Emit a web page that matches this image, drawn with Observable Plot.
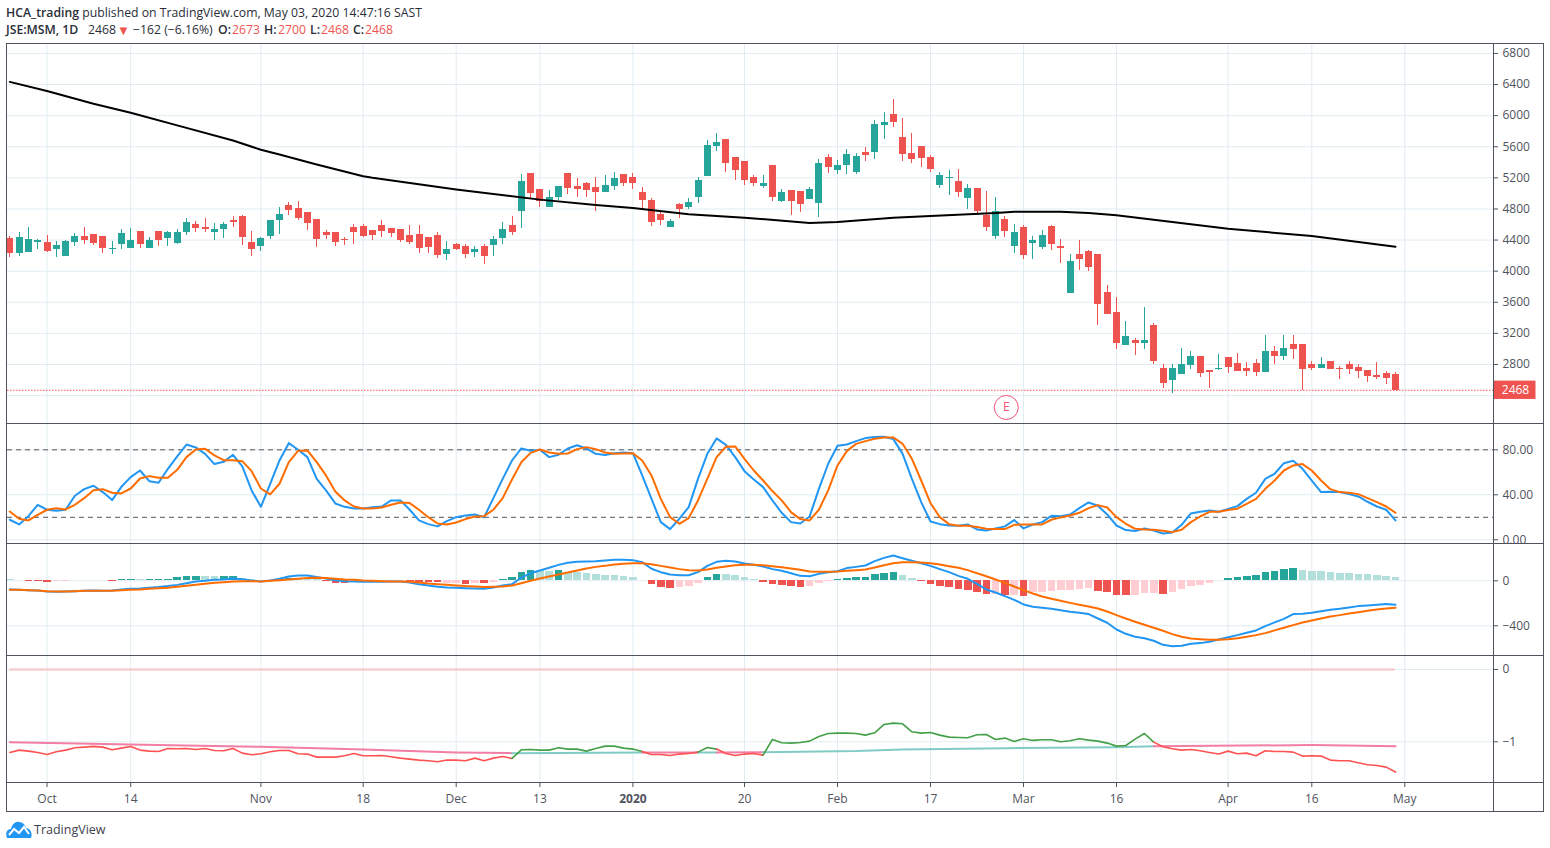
<!DOCTYPE html>
<html>
<head>
<meta charset="utf-8">
<script src="https://cdn.jsdelivr.net/npm/d3@7"></script>
<script src="https://cdn.jsdelivr.net/npm/@observablehq/plot@0.6"></script>
<style>
  html, body { margin: 0; padding: 0; background: #fff; overflow: hidden; }
  #stage { position: relative; width: 1550px; height: 848px; font-family: "Open Sans", sans-serif; color: #131722; }
  .pane { position: absolute; left: 0; }
  .pane svg { display: block; overflow: hidden; }
  .line { position: absolute; background: #50535e; }
  .hdr { position: absolute; font-size: 12.24px; line-height: 16px; white-space: nowrap; color: #2a2e39; }
  .hdr b { font-weight: 600; }
  .hdr.v { color: #ef5350; }
  #logo { position: absolute; left: 6px; top: 821px; display: flex; align-items: center; font-size: 12.5px; color: #3d4150; }
</style>
</head>
<body>
<div id="stage">
  <div class="hdr" style="left:6px;top:5px"><b>HCA_trading</b> published on TradingView.com, May 03, 2020 14:47:16 SAST</div>
  <div class="hdr" style="left:6px;top:22px"><b>JSE:MSM, 1D</b></div>
  <div class="hdr" style="left:88px;top:22px">2468</div>
  <div class="hdr v" style="left:117px;top:22px;font-size:13px">▼</div>
  <div class="hdr" style="left:133px;top:22px">−162 (−6.16%)</div>
  <div class="hdr" style="left:218px;top:22px"><b>O:</b></div>
  <div class="hdr v" style="left:232px;top:22px">2673</div>
  <div class="hdr" style="left:264px;top:22px"><b>H:</b></div>
  <div class="hdr v" style="left:278px;top:22px">2700</div>
  <div class="hdr" style="left:310px;top:22px"><b>L:</b></div>
  <div class="hdr v" style="left:321px;top:22px">2468</div>
  <div class="hdr" style="left:353px;top:22px"><b>C:</b></div>
  <div class="hdr v" style="left:365px;top:22px">2468</div>
  <div id="logo"><svg width="26" height="17" viewBox="0 0 26 17"><path d="M1 17 C-1 12 1 8 5 8 C6 3 10 0 13 1 C17 1 19 4 20 7 C24 7 27 12 25 17 Z" fill="#2196f3"/><path d="M3 14 L8 8 L13 12 L18 6 L23 13" fill="none" stroke="#fff" stroke-width="2"/></svg><span style="margin-left:2px">TradingView</span></div>
</div>
<script>
// Candles, one entry per trading day
const open = [4417,4224,4241,4374,4366,4275,4189,4366,4443,4469,4443,4275,4340,4288,4508,4288,4508,4417,4353,4495,4598,4559,4495,4533,4649,4701,4366,4314,4443,4649,4843,4804,4753,4662,4495,4495,4409,4559,4572,4520,4585,4546,4533,4456,4469,4430,4456,4211,4340,4314,4237,4314,4327,4417,4585,4766,5256,5049,4817,4946,5256,5088,5127,5075,5011,5088,5243,5204,5011,4907,4727,4559,4856,4817,4946,5217,5604,5694,5462,5411,5204,5088,5359,4895,5036,5024,4920,4869,5462,5294,5359,5269,5527,5527,5875,6017,5720,5514,5604,5462,5101,5196,5153,4933,5062,4714,4443,4662,4314,4559,4352,4301,4572,4314,3707,4210,4249,4210,3720,3462,3049,3114,3075,3307,2753,2598,2675,2791,2907,2727,2740,2895,2817,2753,2817,2701,2972,2907,3062,3062,2804,2753,2843,2753,2804,2766,2727,2662,2688,2673];
const high = [4447,4495,4559,4409,4456,4378,4391,4482,4559,4469,4443,4378,4533,4546,4508,4430,4508,4508,4533,4675,4637,4675,4611,4624,4701,4714,4508,4430,4649,4817,4882,4895,4753,4662,4520,4495,4430,4598,4598,4520,4649,4546,4533,4585,4585,4430,4495,4378,4353,4340,4314,4340,4443,4624,4701,5243,5256,5049,5036,5088,5256,5191,5140,5204,5230,5269,5243,5256,5075,4933,4766,4662,4869,4933,5204,5681,5772,5694,5462,5411,5230,5230,5359,5049,5036,5024,5075,5436,5501,5423,5565,5514,5591,5939,6043,6210,5965,5772,5604,5488,5269,5294,5307,5114,5062,5024,4941,4701,4597,4585,4443,4520,4585,4404,4210,4391,4262,4210,3811,3656,3359,3140,3527,3333,2804,2804,3011,2972,2907,2727,2933,2895,2946,2830,2869,3178,3037,3178,3178,3062,2843,2895,2843,2778,2843,2804,2727,2830,2714,2700];
const low = [4176,4189,4241,4280,4241,4176,4189,4314,4340,4327,4224,4211,4275,4288,4288,4288,4314,4314,4344,4456,4495,4495,4391,4417,4559,4327,4185,4250,4404,4469,4714,4649,4520,4301,4404,4314,4327,4340,4430,4391,4430,4430,4366,4340,4224,4224,4159,4133,4262,4159,4172,4082,4185,4340,4456,4546,4920,4817,4817,4903,4985,4946,4946,4766,5011,5036,5088,5049,4778,4572,4585,4559,4675,4791,4869,5217,5540,5269,5165,5101,5088,5062,4895,4882,4714,4753,4920,4688,5256,5243,5243,5243,5411,5436,5694,5849,5411,5385,5333,5269,5062,4972,4946,4791,4714,4508,4404,4430,4223,4146,4146,4275,4262,4094,3707,4004,3991,3295,3449,2998,3049,2920,2998,2804,2495,2430,2675,2740,2637,2495,2727,2688,2714,2649,2649,2701,2804,2856,2869,2469,2727,2753,2740,2611,2675,2624,2572,2611,2546,2468];
const close = [4228,4430,4404,4391,4250,4327,4378,4443,4391,4353,4288,4288,4482,4391,4340,4391,4391,4495,4495,4624,4546,4533,4533,4598,4628,4430,4275,4417,4649,4727,4778,4675,4611,4404,4456,4366,4396,4495,4443,4456,4508,4482,4391,4366,4288,4301,4198,4275,4275,4211,4275,4185,4404,4533,4495,5153,4998,4895,4946,5088,5062,5049,5036,5011,5101,5191,5127,5127,4907,4624,4649,4637,4791,4882,5165,5617,5656,5385,5294,5165,5127,5127,4946,5011,4895,4856,5049,5385,5333,5359,5501,5475,5488,5888,5914,5914,5501,5436,5449,5307,5230,5204,5011,5062,4766,4559,4761,4507,4494,4198,4391,4456,4339,4288,4120,4146,4043,3565,3449,3075,3165,3075,3114,2843,2559,2753,2804,2907,2688,2701,2753,2766,2714,2714,2701,2972,2907,3011,2998,2740,2753,2804,2740,2740,2740,2714,2649,2637,2624,2468];

// Long moving average on the price pane: bar number and value
const smaBar = [0,4,9,13,18,24,27,29,33,38,39,48,57,63,67,73,79,86,89,95,99,106,108,113,116,119,125,131,140,149];
const smaVal = [6434,6318,6154,6038,5875,5681,5561,5501,5372,5221,5200,5049,4920,4851,4813,4731,4688,4619,4632,4688,4710,4748,4765,4765,4748,4718,4632,4546,4451,4314];

// Stochastic
const stochK = [17.8,13.6,21.0,31.1,26.7,25.8,26.7,39.1,45.0,48.0,42.4,35.3,47.1,55.7,61.6,52.1,50.7,63.1,74.1,84.7,82.1,76.4,67.3,69.3,75.6,65.2,43.9,29.3,49.8,70.5,85.9,80.0,73.5,54.2,43.9,32.3,29.3,27.9,27.9,29.0,29.6,35.0,35.0,26.7,17.2,13.9,11.9,16.6,20.1,21.6,22.5,20.1,37.0,54.2,70.5,81.2,79.1,80.0,73.5,75.6,81.2,84.1,81.2,76.4,75.3,77.0,77.6,77.0,57.2,36.4,15.7,9.5,18.7,29.0,54.2,76.4,90.1,84.4,73.5,61.0,53.6,46.8,35.0,24.0,15.7,14.5,20.7,45.3,67.6,83.6,84.7,87.7,90.4,91.3,91.6,89.5,76.4,54.2,33.5,16.3,13.9,12.7,12.4,13.6,9.2,8.3,10.1,11.9,17.5,10.1,13.6,15.7,21.3,21.0,22.5,28.1,33.2,30.2,22.5,12.7,8.6,7.7,10.1,8.3,5.6,6.5,13.3,23.4,24.9,26.1,24.9,27.3,29.9,36.4,41.8,54.2,58.7,68.1,70.2,63.1,52.7,42.4,42.7,42.4,40.6,38.5,33.8,29.6,26.7,17.2];
const stochD = [25.2,18.7,17.2,22.2,26.7,28.1,27.0,31.1,37.0,44.1,45.0,41.8,41.2,45.6,54.5,56.6,55.1,55.1,62.2,73.5,80.3,80.9,75.0,70.8,70.8,69.9,61.0,45.6,40.3,49.8,69.0,79.1,79.4,69.0,57.2,43.0,35.0,29.6,27.9,27.9,28.7,31.1,33.2,32.6,26.7,20.1,14.5,13.6,15.4,18.4,20.7,21.0,26.7,37.0,53.6,69.0,77.3,80.3,77.6,76.4,76.7,80.6,82.4,80.6,77.6,76.4,76.7,77.0,70.5,57.2,36.4,20.1,14.2,19.3,35.0,54.2,73.5,82.7,83.0,72.0,61.6,52.7,43.3,35.0,24.6,18.4,17.2,26.7,43.9,66.1,78.8,85.3,87.7,89.8,91.0,91.0,85.3,72.0,52.7,32.6,20.1,13.9,12.4,12.4,11.3,9.8,9.5,9.5,13.3,13.6,13.6,13.6,17.8,19.9,21.6,24.0,28.1,30.8,28.7,20.1,14.2,9.8,9.2,8.9,8.0,6.8,8.9,15.7,20.7,24.9,24.9,26.4,27.6,32.0,36.4,45.3,52.7,61.6,66.1,67.3,61.6,52.7,45.0,42.4,41.8,40.6,37.0,33.5,29.6,24.0];
const stochLevels = [80, 20];

// MACD
const macdLine = [-77,-80,-83,-86,-95,-98,-95,-92,-89,-86,-89,-86,-77,-71,-68,-62,-56,-47,-36,-21,-6,0,9,12,21,15,3,-6,3,18,39,47,47,33,21,6,-3,-6,-9,-9,-9,-6,-6,-15,-30,-41,-53,-59,-62,-65,-68,-71,-59,-41,-30,27,68,92,116,142,160,169,172,175,181,187,187,184,166,107,77,56,50,50,77,133,169,178,172,154,142,127,104,89,68,44,41,62,77,86,113,124,136,175,204,225,201,178,157,133,104,77,44,18,-27,-77,-104,-136,-169,-210,-231,-240,-249,-261,-276,-284,-296,-335,-373,-433,-471,-498,-510,-533,-569,-581,-578,-560,-554,-542,-521,-501,-483,-462,-441,-403,-370,-338,-296,-293,-284,-270,-258,-249,-237,-225,-219,-213,-207,-213];
const macdSignal = [-80,-80,-83,-86,-92,-95,-95,-92,-89,-89,-89,-89,-83,-80,-77,-71,-65,-62,-53,-44,-36,-27,-18,-12,-6,-3,-3,-6,0,6,12,18,24,27,24,18,12,9,3,0,-3,-6,-6,-9,-15,-24,-30,-36,-41,-47,-50,-56,-53,-50,-41,-21,0,21,39,56,74,92,110,124,133,145,151,157,157,148,133,119,104,95,92,101,116,127,139,142,142,139,130,121,110,98,83,80,80,83,89,95,101,119,139,157,166,166,163,157,145,130,116,95,68,41,12,-18,-50,-83,-113,-139,-160,-178,-196,-213,-228,-246,-273,-305,-335,-364,-391,-418,-444,-474,-498,-513,-519,-524,-524,-519,-510,-498,-483,-465,-441,-418,-394,-370,-353,-335,-317,-305,-290,-279,-267,-255,-246,-240];
const macdHist = [12,3,-6,-6,-12,-9,-9,4,4,4,4,-5,12,12,12,9,15,15,30,38,38,38,38,38,38,20,10,3,3,9,21,18,15,12,-3,-24,-21,-18,-12,-9,-6,-6,-6,-6,-12,-12,-15,-24,-24,-30,-24,-24,-15,12,30,74,92,92,83,92,77,74,65,56,47,47,38,30,3,-33,-59,-68,-59,-50,-24,30,56,56,47,30,12,-15,-33,-41,-50,-59,-50,-24,-6,12,21,30,30,56,65,74,47,21,-6,-33,-50,-59,-77,-86,-104,-121,-121,-130,-130,-139,-104,-104,-95,-86,-86,-77,-68,-95,-104,-130,-130,-130,-113,-113,-121,-104,-77,-50,-41,-24,3,21,30,38,47,74,83,101,110,92,83,83,74,65,65,56,56,47,38,30];
const histKind = "ll rrr pp ttt l r tt l tttttt ll tt lll ttt lll rrr pppppp rrrr pp r p r p tttt ll t lllllllll rrr ppp tt llll rrrrr ppp ttttttt ll rrrrrrrr p r p r ppppppp rrrr ppp r ppppp ttttttttt lllllllllll".replaceAll(" ", "").split("");

// Lower indicator
const lowerLine = [-1.147,-1.115,-1.129,-1.147,-1.175,-1.138,-1.115,-1.083,-1.074,-1.064,-1.074,-1.111,-1.088,-1.064,-1.115,-1.129,-1.134,-1.092,-1.097,-1.092,-1.106,-1.092,-1.120,-1.124,-1.092,-1.157,-1.180,-1.166,-1.138,-1.120,-1.120,-1.166,-1.170,-1.212,-1.212,-1.212,-1.193,-1.161,-1.193,-1.193,-1.189,-1.207,-1.226,-1.240,-1.253,-1.263,-1.276,-1.253,-1.253,-1.263,-1.226,-1.263,-1.226,-1.203,-1.230,-1.111,-1.106,-1.115,-1.115,-1.083,-1.101,-1.101,-1.129,-1.092,-1.060,-1.060,-1.088,-1.101,-1.134,-1.175,-1.175,-1.189,-1.170,-1.161,-1.143,-1.078,-1.101,-1.161,-1.189,-1.170,-1.161,-1.184,-0.968,-1.014,-1.018,-1.009,-0.991,-0.926,-0.885,-0.880,-0.880,-0.885,-0.908,-0.876,-0.760,-0.742,-0.751,-0.862,-0.880,-0.871,-0.908,-0.935,-0.940,-0.945,-0.903,-0.899,-0.968,-0.949,-0.995,-0.958,-0.981,-0.972,-0.972,-1.000,-0.986,-0.958,-0.977,-0.991,-1.018,-1.060,-1.051,-0.963,-0.885,-1.005,-1.069,-1.097,-1.115,-1.106,-1.124,-1.147,-1.170,-1.129,-1.166,-1.157,-1.193,-1.124,-1.134,-1.134,-1.143,-1.198,-1.193,-1.198,-1.253,-1.263,-1.263,-1.290,-1.318,-1.327,-1.350,-1.419];
const avgBar = [0,13,27,38,48,54,68,74,76,81,91,96,107,119,123,140,149];
const avgVal = [-1.005,-1.037,-1.069,-1.106,-1.147,-1.157,-1.147,-1.147,-1.147,-1.143,-1.129,-1.106,-1.088,-1.074,-1.060,-1.046,-1.060];
const stateStart = [0,54,68,74,76,81,123];
const stateKind = ["below","above","below","above","below","above","below"];
const stateEnd = 149;

// Axis labels
const priceTicks = [2800,3200,3600,4000,4400,4800,5200,5600,6000,6400,6800];
const priceGrid = [2400, ...priceTicks];
const stochTicks = [0,40,80];
const macdTicks = [0,-400];
const lowerTicks = [0,-1];
const timeBars = [4,13,27,38,48,57,67,79,89,99,109,119,131,140,150];
const timeLabels = ["Oct","14","Nov","18","Dec","13","2020","20","Feb","17","Mar","16","Apr","16","May"];
const lastPrice = 2468;
const earningsBar = 107.15, earningsLevel = 2247;

// Colours
const UP = "#26a69a", DOWN = "#ef5350", GRID = "#e1ecf2", TEXT = "#50535e";
const histColors = {t: "#26a69a", l: "#b2dfdb", r: "#ef5350", p: "#ffcdd2"};

const bars = open.map((o, i) => ({i, o, h: high[i], l: low[i], c: close[i], col: close[i] >= o ? UP : DOWN}));
const barsOf = arr => arr.map((v, i) => ({i, v}));
const xDomain = [7 / 9.3 - 1, 1493 / 9.3 - 1];

function pane(top, height, yDomain, marks, extra = {}) {
  const el = Plot.plot({
    width: 1550, height, marginTop: 0, marginBottom: extra.marginBottom ?? 0, marginLeft: 7, marginRight: 57,
    x: {domain: xDomain, axis: null},
    y: {domain: yDomain, axis: null},
    color: {type: "identity"},
    style: {background: "transparent", color: TEXT, fontFamily: "'Open Sans', sans-serif", fontSize: "12px"},
    marks
  });
  const d = document.createElement("div");
  d.className = "pane";
  d.style.top = top + "px";
  d.appendChild(el);
  document.getElementById("stage").appendChild(d);
}
const gridX = () => Plot.gridX(timeBars, {stroke: GRID, strokeOpacity: 1});
const gridY = t => Plot.gridY(t, {stroke: GRID, strokeOpacity: 1});
const axisRight = (t, f) => Plot.axisY(t, {anchor: "right", tickSize: 4, tickPadding: 5, label: null, tickFormat: f, stroke: TEXT, fill: TEXT});
const series = (arr, stroke, w = 2) => Plot.lineY(arr, {x: (d, i) => i, y: d => d, stroke, strokeWidth: w, strokeLinejoin: "round"});

// Price pane
pane(44, 380, [2028, 6915], [
  gridX(), gridY(priceGrid),
  axisRight(priceTicks, d => String(d)),
  Plot.ruleY([lastPrice], {stroke: DOWN, strokeDasharray: "1.5 1.5"}),
  Plot.ruleX(bars, {x: "i", y1: "l", y2: "h", stroke: "col", strokeWidth: 1, shapeRendering: "crispEdges"}),
  Plot.ruleX(bars, {x: "i", y1: d => Math.min(d.o, d.c), y2: d => Math.max(d.o, d.c), stroke: "col", strokeWidth: 7, shapeRendering: "crispEdges"}),
  Plot.line(smaBar.map((b, k) => ({b, v: smaVal[k]})), {x: "b", y: "v", stroke: "#000", strokeWidth: 2}),
  Plot.rect([lastPrice], {x1: xDomain[1], x2: 1535.5 / 9.3 - 1, y1: d => d - 118, y2: d => d + 118, fill: DOWN}),
  Plot.text([lastPrice], {x: 1515 / 9.3 - 1, y: d => d, text: d => String(d), fill: "#fff", fontSize: 12}),
  Plot.dot([earningsLevel], {x: earningsBar, y: d => d, r: 12, stroke: "#ef5376", fill: "#fff", strokeWidth: 1}),
  Plot.text([earningsLevel], {x: earningsBar, y: d => d, text: () => "E", fill: "#ef5376", fontSize: 12})
]);

// Stochastic pane
pane(424, 120, [-4.2, 102.5], [
  gridX(), gridY(stochTicks),
  axisRight(stochTicks, d => d.toFixed(2)),
  Plot.ruleY(stochLevels, {stroke: "#555", strokeDasharray: "5 4", strokeWidth: 1}),
  series(stochK, "#2196f3"),
  series(stochD, "#ff6d00")
]);

// MACD pane
pane(544, 112, [-673, 323], [
  gridX(), gridY(macdTicks),
  axisRight(macdTicks, d => d < 0 ? "−" + Math.abs(d) : String(d)),
  Plot.ruleX(barsOf(macdHist), {x: "i", y1: 0, y2: "v", stroke: d => histColors[histKind[d.i]], strokeWidth: 7.6, shapeRendering: "crispEdges"}),
  series(macdLine, "#2196f3"),
  series(macdSignal, "#ff6d00")
]);

// Lower pane with time axis
const lowerSegs = [], avgSegs = [];
stateStart.forEach((s, k) => {
  const e = k + 1 < stateStart.length ? stateStart[k + 1] : stateEnd;
  for (let i = s; i <= e; i++) lowerSegs.push({i, v: lowerLine[i], seg: k, col: stateKind[k] === "above" ? "#43a047" : "#ff5252"});
  avgBar.forEach((b, j) => { if (b >= s && b <= e) avgSegs.push({i: b, v: avgVal[j], seg: k, col: stateKind[k] === "above" ? "#80cbc4" : "#f27ea5"}); });
});
pane(656, 155, [-1.577, 0.18], [
  gridX(), gridY(lowerTicks),
  axisRight(lowerTicks, d => d < 0 ? "−" + Math.abs(d) : String(d)),
  Plot.ruleY([0], {x1: 0, x2: stateEnd, stroke: "#f8c6c6", strokeWidth: 2}),
  Plot.line(avgSegs, {x: "i", y: "v", z: "seg", stroke: "col", strokeWidth: 2}),
  Plot.line(lowerSegs, {x: "i", y: "v", z: "seg", stroke: "col", strokeWidth: 1.6}),
  Plot.axisX(timeBars.filter(b => b !== 67), {anchor: "bottom", tickSize: 4, tickPadding: 7, label: null, stroke: TEXT, fill: TEXT, tickFormat: b => timeLabels[timeBars.indexOf(b)]}),
  Plot.axisX([67], {anchor: "bottom", tickSize: 4, tickPadding: 7, label: null, stroke: TEXT, fill: TEXT, fontWeight: "bold", tickFormat: b => timeLabels[timeBars.indexOf(b)]})
], {marginBottom: 28});

// Pane borders
[["left:6px;top:43px;width:1538px;height:1px"], ["left:6px;top:811px;width:1538px;height:1px"],
 ["left:6px;top:43px;width:1px;height:769px"], ["left:1543px;top:43px;width:1px;height:769px"],
 ["left:1493px;top:43px;width:1px;height:769px"], ["left:6px;top:423px;width:1538px;height:1px"],
 ["left:6px;top:543px;width:1538px;height:1px"], ["left:6px;top:655px;width:1538px;height:1px"],
 ["left:6px;top:782px;width:1538px;height:1px"]].forEach(([s]) => {
  const d = document.createElement("div"); d.className = "line"; d.style.cssText = s;
  document.getElementById("stage").appendChild(d);
});
</script>
</body>
</html>
